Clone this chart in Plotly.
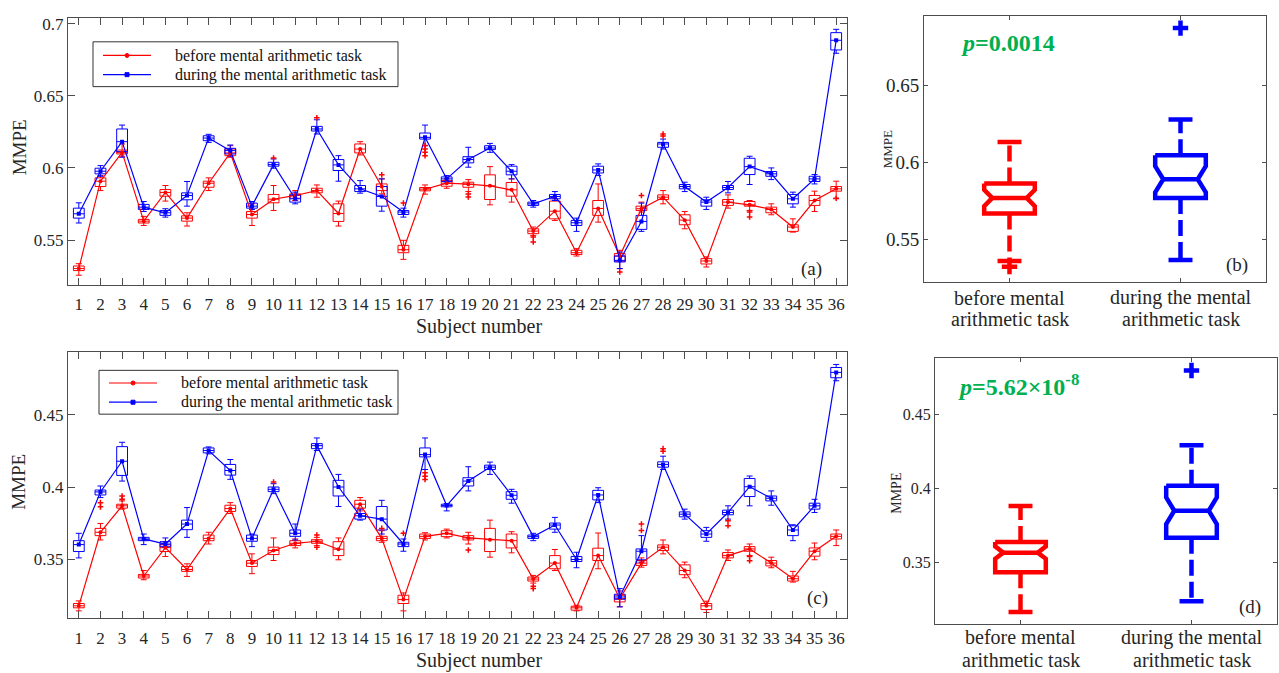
import plotly.graph_objects as go

# ---------------------------------------------------------------- data
subjects = list(range(1, 37))

# panel (a): per-subject box statistics, before the task (red)
a_before_mid = [0.5302, 0.5908, 0.6108, 0.5631, 0.5830, 0.5652, 0.5894, 0.6104, 0.5677, 0.5783,
                0.5809, 0.5843, 0.5684, 0.6131, 0.5871, 0.5433, 0.5853, 0.5894, 0.5887, 0.5876,
                0.5848, 0.5562, 0.5700, 0.5412, 0.5719, 0.5389, 0.5717, 0.5797, 0.5638, 0.5355,
                0.5763, 0.5744, 0.5712, 0.5590, 0.5774, 0.5855]
a_before_q3 = [0.5320, 0.5931, 0.6124, 0.5643, 0.5850, 0.5668, 0.5908, 0.6131, 0.5698, 0.5816,
               0.5820, 0.5859, 0.5751, 0.6166, 0.5889, 0.5463, 0.5864, 0.5912, 0.5901, 0.5952,
               0.5899, 0.5578, 0.5770, 0.5429, 0.5774, 0.5406, 0.5735, 0.5813, 0.5675, 0.5371,
               0.5781, 0.5767, 0.5728, 0.5606, 0.5809, 0.5871]
a_before_q1 = [0.5288, 0.5871, 0.6097, 0.5618, 0.5804, 0.5631, 0.5866, 0.6085, 0.5652, 0.5758,
               0.5790, 0.5827, 0.5629, 0.6104, 0.5843, 0.5412, 0.5841, 0.5873, 0.5866, 0.5781,
               0.5804, 0.5544, 0.5647, 0.5399, 0.5671, 0.5353, 0.5705, 0.5781, 0.5606, 0.5334,
               0.5740, 0.5735, 0.5689, 0.5560, 0.5740, 0.5839]
a_before_hi = [0.5336, 0.5947, 0.6166, 0.5664, 0.5878, 0.5689, 0.5931, 0.6154, 0.5751, 0.5878,
               0.5843, 0.5882, 0.5770, 0.6182, 0.5924, 0.5498, 0.5882, 0.5924, 0.5919, 0.6009,
               0.5924, 0.5590, 0.5786, 0.5440, 0.5889, 0.5429, 0.5763, 0.5843, 0.5698, 0.5383,
               0.5813, 0.5774, 0.5751, 0.5647, 0.5839, 0.5908]
a_before_lo = [0.5256, 0.5843, 0.6081, 0.5601, 0.5770, 0.5597, 0.5843, 0.6074, 0.5601, 0.5705,
               0.5774, 0.5797, 0.5597, 0.6090, 0.5820, 0.5366, 0.5818, 0.5859, 0.5836, 0.5744,
               0.5763, 0.5532, 0.5636, 0.5389, 0.5624, 0.5302, 0.5694, 0.5751, 0.5578, 0.5313,
               0.5721, 0.5705, 0.5675, 0.5555, 0.5698, 0.5786]

# panel (a): during the task (blue)
a_during_mid = [0.5682, 0.5977, 0.6182, 0.5728, 0.5689, 0.5809, 0.6207, 0.6120, 0.5735, 0.6023,
                0.5786, 0.6270, 0.6021, 0.5855, 0.5802, 0.5694, 0.6212, 0.5924, 0.6058, 0.6138,
                0.5977, 0.5751, 0.5802, 0.5620, 0.5986, 0.5359, 0.5629, 0.6166, 0.5871, 0.5763,
                0.5864, 0.6009, 0.5959, 0.5786, 0.5924, 0.6885]
a_during_q3 = [0.5721, 0.5998, 0.6270, 0.5747, 0.5705, 0.5827, 0.6223, 0.6136, 0.5756, 0.6039,
               0.5813, 0.6288, 0.6058, 0.5878, 0.5871, 0.5705, 0.6242, 0.5938, 0.6078, 0.6154,
               0.6012, 0.5763, 0.5816, 0.5636, 0.6012, 0.5389, 0.5671, 0.6177, 0.5885, 0.5779,
               0.5878, 0.6067, 0.5975, 0.5816, 0.5942, 0.6938]
a_during_q1 = [0.5652, 0.5959, 0.6113, 0.5712, 0.5671, 0.5779, 0.6189, 0.6097, 0.5721, 0.6012,
               0.5763, 0.6256, 0.5982, 0.5836, 0.5735, 0.5677, 0.6200, 0.5906, 0.6035, 0.6127,
               0.5952, 0.5740, 0.5786, 0.5601, 0.5965, 0.5348, 0.5574, 0.6143, 0.5855, 0.5735,
               0.5850, 0.5954, 0.5942, 0.5751, 0.5906, 0.6818]
a_during_hi = [0.5758, 0.6016, 0.6297, 0.5767, 0.5717, 0.5906, 0.6233, 0.6159, 0.5767, 0.6062,
               0.5832, 0.6334, 0.6085, 0.5912, 0.5924, 0.5721, 0.6297, 0.5947, 0.6143, 0.6170,
               0.6023, 0.5774, 0.5836, 0.5652, 0.6028, 0.5417, 0.5756, 0.6200, 0.5901, 0.5797,
               0.5906, 0.6081, 0.6000, 0.5832, 0.5954, 0.6961]
a_during_lo = [0.5618, 0.5942, 0.6074, 0.5698, 0.5659, 0.5735, 0.6177, 0.6081, 0.5712, 0.5998,
               0.5751, 0.6235, 0.5908, 0.5825, 0.5700, 0.5659, 0.6154, 0.5896, 0.6005, 0.6108,
               0.5924, 0.5728, 0.5774, 0.5560, 0.5947, 0.5302, 0.5560, 0.6131, 0.5836, 0.5712,
               0.5827, 0.5885, 0.5919, 0.5728, 0.5889, 0.6795]

a_outlier_x = [10, 12, 15, 16, 17, 17, 17, 17, 19, 19, 22, 22, 26, 27, 28, 28, 32, 32, 36]
a_outlier_y = [0.6069, 0.6348, 0.5952, 0.5756, 0.6155, 0.6132, 0.6108, 0.6085, 0.5820, 0.5798,
               0.5521, 0.5486, 0.5279, 0.5809, 0.6235, 0.6222, 0.5694, 0.5660, 0.5790]

# panel (c): before the task (red)
c_before_mid = [0.3179, 0.3687, 0.3870, 0.3385, 0.3581, 0.3430, 0.3645, 0.3851, 0.3474, 0.3561,
                0.3611, 0.3625, 0.3570, 0.3881, 0.3645, 0.3222, 0.3659, 0.3680, 0.3648, 0.3636,
                0.3629, 0.3364, 0.3474, 0.3165, 0.3526, 0.3229, 0.3474, 0.3584, 0.3423, 0.3179,
                0.3526, 0.3572, 0.3474, 0.3366, 0.3556, 0.3659]
c_before_q3 = [0.3195, 0.3714, 0.3881, 0.3396, 0.3602, 0.3451, 0.3668, 0.3874, 0.3492, 0.3584,
               0.3629, 0.3636, 0.3622, 0.3908, 0.3659, 0.3252, 0.3675, 0.3698, 0.3664, 0.3714,
               0.3675, 0.3378, 0.3526, 0.3176, 0.3577, 0.3252, 0.3492, 0.3600, 0.3462, 0.3195,
               0.3547, 0.3588, 0.3492, 0.3385, 0.3579, 0.3675]
c_before_q1 = [0.3165, 0.3664, 0.3854, 0.3371, 0.3554, 0.3417, 0.3629, 0.3831, 0.3451, 0.3533,
               0.3595, 0.3611, 0.3526, 0.3854, 0.3629, 0.3195, 0.3645, 0.3657, 0.3634, 0.3554,
               0.3579, 0.3350, 0.3435, 0.3149, 0.3492, 0.3206, 0.3458, 0.3561, 0.3394, 0.3153,
               0.3510, 0.3556, 0.3455, 0.3350, 0.3522, 0.3641]
c_before_hi = [0.3213, 0.3748, 0.3904, 0.3423, 0.3622, 0.3469, 0.3687, 0.3892, 0.3538, 0.3648,
               0.3641, 0.3652, 0.3648, 0.3927, 0.3698, 0.3268, 0.3684, 0.3709, 0.3687, 0.3771,
               0.3691, 0.3389, 0.3568, 0.3183, 0.3682, 0.3282, 0.3510, 0.3634, 0.3481, 0.3211,
               0.3565, 0.3606, 0.3515, 0.3417, 0.3613, 0.3703]
c_before_lo = [0.3144, 0.3634, 0.3847, 0.3359, 0.3520, 0.3382, 0.3606, 0.3817, 0.3401, 0.3492,
               0.3579, 0.3595, 0.3497, 0.3835, 0.3618, 0.3144, 0.3634, 0.3648, 0.3606, 0.3515,
               0.3545, 0.3336, 0.3423, 0.3144, 0.3435, 0.3172, 0.3446, 0.3538, 0.3373, 0.3133,
               0.3492, 0.3526, 0.3442, 0.3343, 0.3497, 0.3595]

# panel (c): during the task (blue)
c_during_mid = [0.3602, 0.3966, 0.4178, 0.3641, 0.3606, 0.3744, 0.4252, 0.4114, 0.3645, 0.3984,
                0.3680, 0.4286, 0.4000, 0.3801, 0.3778, 0.3606, 0.4224, 0.3872, 0.4041, 0.4137,
                0.3943, 0.3657, 0.3737, 0.3499, 0.3945, 0.3240, 0.3556, 0.4156, 0.3812, 0.3675,
                0.3824, 0.4002, 0.3922, 0.3703, 0.3870, 0.4792]
c_during_q3 = [0.3629, 0.3979, 0.4279, 0.3652, 0.3622, 0.3771, 0.4270, 0.4156, 0.3668, 0.4000,
               0.3703, 0.4300, 0.4046, 0.3817, 0.3865, 0.3618, 0.4270, 0.3881, 0.4064, 0.4151,
               0.3968, 0.3668, 0.3751, 0.3520, 0.3977, 0.3259, 0.3572, 0.4174, 0.3828, 0.3698,
               0.3840, 0.4059, 0.3938, 0.3732, 0.3888, 0.4826]
c_during_q1 = [0.3554, 0.3945, 0.4080, 0.3629, 0.3590, 0.3705, 0.4236, 0.4082, 0.3625, 0.3968,
               0.3659, 0.4265, 0.3938, 0.3778, 0.3703, 0.3588, 0.4208, 0.3863, 0.4007, 0.4121,
               0.3915, 0.3645, 0.3709, 0.3485, 0.3911, 0.3224, 0.3497, 0.4137, 0.3794, 0.3652,
               0.3808, 0.3934, 0.3904, 0.3664, 0.3847, 0.4755]
c_during_hi = [0.3680, 0.4007, 0.4309, 0.3675, 0.3648, 0.3858, 0.4277, 0.4190, 0.3675, 0.4023,
               0.3744, 0.4339, 0.4087, 0.3847, 0.3908, 0.3641, 0.4339, 0.3886, 0.4140, 0.4172,
               0.3984, 0.3680, 0.3790, 0.3549, 0.3995, 0.3298, 0.3664, 0.4213, 0.3847, 0.3721,
               0.3870, 0.4076, 0.3973, 0.3739, 0.3915, 0.4847]
c_during_lo = [0.3510, 0.3927, 0.4041, 0.3602, 0.3584, 0.3652, 0.4229, 0.4053, 0.3588, 0.3954,
               0.3634, 0.4252, 0.3865, 0.3771, 0.3675, 0.3556, 0.4121, 0.3835, 0.3973, 0.4087,
               0.3888, 0.3629, 0.3687, 0.3442, 0.3892, 0.3172, 0.3481, 0.4121, 0.3778, 0.3625,
               0.3778, 0.3870, 0.3874, 0.3629, 0.3824, 0.4734]

c_outlier_x = [2, 2, 3, 3, 10, 12, 12, 15, 16, 17, 17, 17, 19, 22, 22, 27, 27, 28, 28, 31, 31, 32, 32]
c_outlier_y = [0.3892, 0.3863, 0.3938, 0.3915, 0.4034, 0.3668, 0.3584, 0.3714, 0.3680, 0.4098,
               0.4075, 0.4052, 0.3565, 0.3314, 0.3298, 0.3744, 0.3700, 0.4265, 0.4247, 0.3767,
               0.3732, 0.3520, 0.3490]

# panels (b) and (d): group summaries [before, during]
group_lines = [("before mental", "arithmetic task"), ("during the mental", "arithmetic task")]
b_q1 = [0.5670, 0.5771]
b_med = [0.5771, 0.5892]
b_q3 = [0.5864, 0.6048]
b_lo = [0.5361, 0.5367]
b_hi = [0.6134, 0.6281]
b_notch = [0.0053, 0.0085]
b_outlier_grp = [1, 2]
b_outlier_y = [0.5324, 0.6875]

d_q1 = [0.3431, 0.3665]
d_med = [0.3564, 0.3847]
d_q3 = [0.3636, 0.4016]
d_lo = [0.3162, 0.3236]
d_hi = [0.3879, 0.4290]
d_notch = [0.0042, 0.0090]
d_outlier_grp = [2]
d_outlier_y = [0.4795]

ticks_a = [0.55, 0.6, 0.65, 0.7]
ticks_b = [0.55, 0.6, 0.65]
ticks_c = [0.35, 0.4, 0.45]
ticks_d = [0.35, 0.4, 0.45]

series_names = ["before mental arithmetic task", "during the mental arithmetic task"]

# ---------------------------------------------------------------- style
W, H = 1279, 673
RED, BLUE, GREEN = "#ff0000", "#0000ff", "#00b050"
INK, FRAME = "#262626", "#4d4d4d"
FONT = '"Liberation Serif", "Times New Roman", Times, serif'


def fx(p):
    return p / W


def fy(p):
    return 1 - p / H


fig = go.Figure()


def small_boxes(xa, ya, q1, mid, q3, lo, hi, color):
    fig.add_trace(go.Box(
        x=subjects, q1=q1, median=mid, q3=q3, lowerfence=lo, upperfence=hi,
        xaxis=xa, yaxis=ya, width=0.5, whiskerwidth=0.55, boxpoints=False,
        line=dict(color=color, width=1), fillcolor="rgba(0,0,0,0)",
        showlegend=False, hoverinfo="skip"))


def series(xa, ya, mid, color, symbol):
    fig.add_trace(go.Scatter(
        x=subjects, y=mid, xaxis=xa, yaxis=ya, mode="lines+markers", showlegend=False,
        line=dict(color=color, width=1.2), marker=dict(symbol=symbol, size=4, color=color),
        hoverinfo="skip"))


def outliers(xa, ya, xs, ys):
    fig.add_trace(go.Scatter(
        x=xs, y=ys, xaxis=xa, yaxis=ya, mode="markers", showlegend=False,
        marker=dict(symbol="cross-thin", size=4, line=dict(color=RED, width=1.5)),
        hoverinfo="skip"))


def notched(xa, ya, pos, q1, med, q3, lo, hi, notch, color, hw=0.148, ratio=0.68, cap=0.07):
    lw = 4.5
    xs = [pos - hw, pos + hw, pos + hw, pos + hw * ratio, pos + hw, pos + hw,
          pos - hw, pos - hw, pos - hw * ratio, pos - hw, pos - hw]
    ys = [q3, q3, med + notch, med, med - notch, q1, q1, med - notch, med, med + notch, q3]
    common = dict(xaxis=xa, yaxis=ya, mode="lines", showlegend=False, hoverinfo="skip")
    fig.add_trace(go.Scatter(x=xs, y=ys, line=dict(color=color, width=lw), **common))
    fig.add_trace(go.Scatter(x=[pos - hw * ratio, pos + hw * ratio], y=[med, med],
                             line=dict(color=color, width=lw), **common))
    for a, b in ((q3, hi), (q1, lo)):
        fig.add_trace(go.Scatter(x=[pos, pos], y=[a, b],
                                 line=dict(color=color, width=lw, dash="16px,6px"), **common))
    for v in (hi, lo):
        fig.add_trace(go.Scatter(x=[pos - cap, pos + cap], y=[v, v],
                                 line=dict(color=color, width=lw), **common))


# panel (a)
small_boxes("x", "y", a_before_q1, a_before_mid, a_before_q3, a_before_lo, a_before_hi, RED)
small_boxes("x", "y", a_during_q1, a_during_mid, a_during_q3, a_during_lo, a_during_hi, BLUE)
series("x", "y", a_before_mid, RED, "circle")
series("x", "y", a_during_mid, BLUE, "square")
outliers("x", "y", a_outlier_x, a_outlier_y)

# panel (c)
small_boxes("x3", "y3", c_before_q1, c_before_mid, c_before_q3, c_before_lo, c_before_hi, RED)
small_boxes("x3", "y3", c_during_q1, c_during_mid, c_during_q3, c_during_lo, c_during_hi, BLUE)
series("x3", "y3", c_before_mid, RED, "circle")
series("x3", "y3", c_during_mid, BLUE, "square")
outliers("x3", "y3", c_outlier_x, c_outlier_y)

# panels (b) and (d)
for i, col in enumerate((RED, BLUE)):
    notched("x2", "y2", i + 1, b_q1[i], b_med[i], b_q3[i], b_lo[i], b_hi[i], b_notch[i], col)
    notched("x4", "y4", i + 1, d_q1[i], d_med[i], d_q3[i], d_lo[i], d_hi[i], d_notch[i], col)

for xa, ya, grps, vals in (("x2", "y2", b_outlier_grp, b_outlier_y),
                           ("x4", "y4", d_outlier_grp, d_outlier_y)):
    for grp, yv in zip(grps, vals):
        col = RED if grp == 1 else BLUE
        fig.add_trace(go.Scatter(x=[grp], y=[yv], xaxis=xa, yaxis=ya, mode="markers",
                                 showlegend=False, hoverinfo="skip",
                                 marker=dict(symbol="cross-thin", size=11,
                                             line=dict(color=col, width=4.5))))


# ---------------------------------------------------------------- axes
def axis(**kw):
    base = dict(showline=True, linecolor=FRAME, linewidth=1, mirror="ticks", ticks="inside",
                tickcolor=FRAME, showgrid=False, zeroline=False,
                tickfont=dict(family=FONT, size=17, color=INK))
    base.update(kw)
    return base


fig.update_layout(
    width=W, height=H, margin=dict(l=0, r=0, t=0, b=0), showlegend=False,
    paper_bgcolor="white", plot_bgcolor="white", boxmode="overlay",
    xaxis=axis(domain=[fx(68), fx(847)], range=[0.5, 36.5], anchor="y",
               tickvals=subjects, ticktext=[str(s) for s in subjects], ticklen=7,
               tickfont=dict(family=FONT, size=17, color=INK), ticklabelstandoff=4),
    yaxis=axis(domain=[fy(283), fy(15)], range=[0.519, 0.704], anchor="x",
               tickvals=ticks_a, ticktext=[f"{t:g}" for t in ticks_a], ticklen=7),
    xaxis2=axis(domain=[fx(924), fx(1266)], range=[0.5, 2.5], anchor="y2",
                tickvals=[1, 2], showticklabels=False, ticklen=4),
    yaxis2=axis(domain=[fy(280), fy(13)], range=[0.5226, 0.6954], anchor="x2",
                tickvals=ticks_b, ticktext=[f"{t:g}" for t in ticks_b], ticklen=4,
                tickfont=dict(family=FONT, size=19, color=INK)),
    xaxis3=axis(domain=[fx(68), fx(847)], range=[0.5, 36.5], anchor="y3",
                tickvals=subjects, ticktext=[str(s) for s in subjects], ticklen=7,
                tickfont=dict(family=FONT, size=17, color=INK), ticklabelstandoff=4),
    yaxis3=axis(domain=[fy(618), fy(351)], range=[0.3093, 0.493], anchor="x3",
                tickvals=ticks_c, ticktext=[f"{t:g}" for t in ticks_c], ticklen=7),
    xaxis4=axis(domain=[fx(935), fx(1277)], range=[0.5, 2.5], anchor="y4",
                tickvals=[1, 2], showticklabels=False, ticklen=4),
    yaxis4=axis(domain=[fy(624), fy(357)], range=[0.308, 0.4877], anchor="x4",
                tickvals=ticks_d, ticktext=[f"{t:g}" for t in ticks_d], ticklen=4,
                tickfont=dict(family=FONT, size=16, color=INK)),
)


# ---------------------------------------------------------------- labels
def label(text, x, y, size, angle=0, color=INK, anchor="center"):
    fig.add_annotation(text=text, x=fx(x), y=fy(y), xref="paper", yref="paper",
                       showarrow=False, textangle=angle, xanchor=anchor, yanchor="middle",
                       font=dict(family=FONT, size=size, color=color))


# boxed key for the two line series
def key(left, top, right, bottom, rows, line_x0, line_x1, text_x):
    fig.add_shape(type="rect", xref="paper", yref="paper",
                  x0=fx(left), x1=fx(right), y0=fy(bottom), y1=fy(top),
                  line=dict(color="#333333", width=1), fillcolor="white", layer="above")
    for row_y, name, col, shape in zip(rows, series_names, (RED, BLUE), ("circle", "rect")):
        fig.add_shape(type="line", xref="paper", yref="paper",
                      x0=fx(line_x0), x1=fx(line_x1), y0=fy(row_y), y1=fy(row_y),
                      line=dict(color=col, width=1.2), layer="above")
        mx = (line_x0 + line_x1) / 2
        fig.add_shape(type=shape, xref="paper", yref="paper",
                      x0=fx(mx - 2), x1=fx(mx + 2), y0=fy(row_y + 2), y1=fy(row_y - 2),
                      line=dict(color=col, width=1), fillcolor=col, layer="above")
        label(name, text_x, row_y, 16, color="#111111", anchor="left")


key(93, 39, 398, 84, (52.7, 72), 103, 151, 173)
key(99, 369, 398, 413, (381.7, 401), 109, 157, 179)

# two-line category labels under panels (b) and (d)
for xa, base_px, y1, y2 in (("x2", 924, 296, 317), ("x4", 935, 637, 660)):
    for pos, (l1, l2) in zip((1, 2), group_lines):
        for txt, yy in ((l1, y1), (l2, y2)):
            fig.add_annotation(text=txt, x=pos, xref=xa, y=fy(yy), yref="paper",
                               showarrow=False, xanchor="center", yanchor="middle",
                               font=dict(family=FONT, size=20, color=INK))

label("MMPE", 19, 145, 19, angle=-90)
label("MMPE", 19, 481, 19, angle=-90)
label("MMPE", 887, 147, 13, angle=-90)
label("MMPE", 897, 492, 14, angle=-90)
label("Subject number", 479, 325, 20)
label("Subject number", 479, 660, 20)
label("(a)", 811, 267, 19)
label("(b)", 1237, 263, 19)
label("(c)", 817, 598, 19)
label("(d)", 1250, 607, 19)
label("<b><i>p</i>=0.0014</b>", 959, 40, 24, color=GREEN, anchor="left")
label("<b><i>p</i>=5.62×10<sup>-8</sup></b>", 956, 384, 24, color=GREEN, anchor="left")

fig.write_html("out.html")
